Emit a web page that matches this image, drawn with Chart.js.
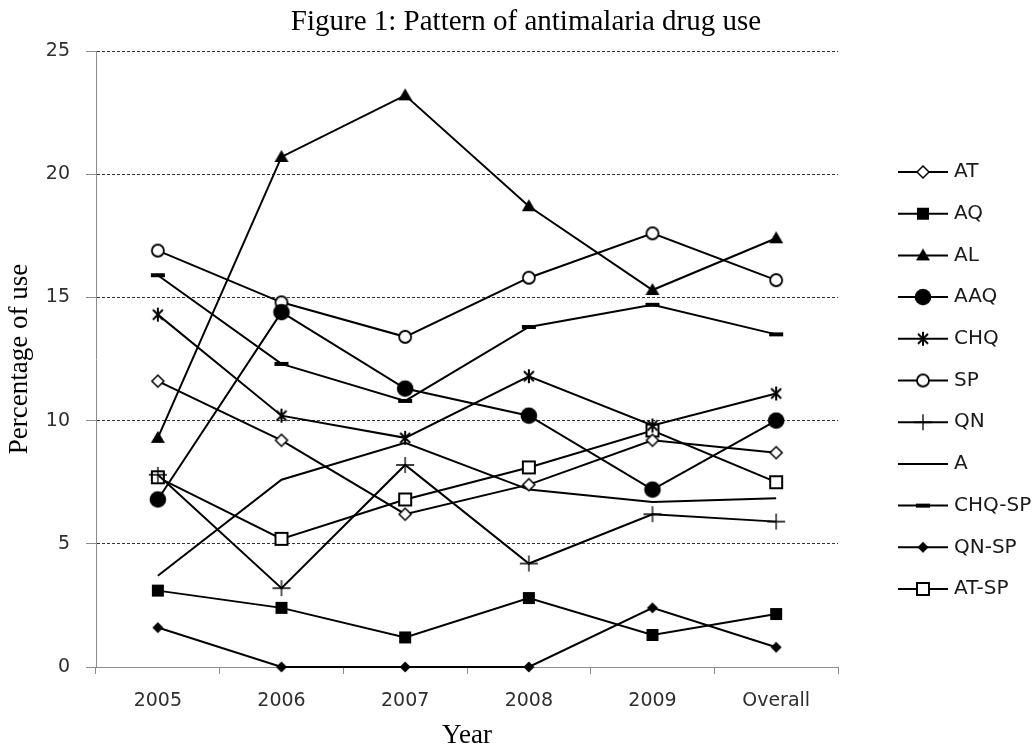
<!DOCTYPE html>
<html><head><meta charset="utf-8">
<script src="https://cdn.jsdelivr.net/npm/chart.js@4"></script>
<style>html,body{margin:0;padding:0;background:#fff}#wrap{width:1034px;height:746px}</style>
</head><body><div id="wrap"><canvas id="c" width="1034" height="746"></canvas></div>
<script>
// ---- data ----
const categories = ['2005', '2006', '2007', '2008', '2009', 'Overall'];
const AT     = [11.6, 9.2, 6.2, 7.4, 9.2, 8.7];
const AQ     = [3.1, 2.4, 1.2, 2.8, 1.3, 2.15];
const AL     = [9.3, 20.7, 23.2, 18.7, 15.3, 17.4];
const AAQ    = [6.8, 14.4, 11.3, 10.2, 7.2, 10.0];
const CHQ    = [14.3, 10.2, 9.3, 11.8, 9.8, 11.1];
const SP     = [16.9, 14.8, 13.4, 15.8, 17.6, 15.7];
const QN     = [7.8, 3.2, 8.2, 4.2, 6.2, 5.9];
const A      = [3.7, 7.6, 9.1, 7.2, 6.7, 6.85];
const CHQ_SP = [15.9, 12.3, 10.8, 13.8, 14.7, 13.5];
const QN_SP  = [1.6, 0, 0, 0, 2.4, 0.8];
const AT_SP  = [7.7, 5.2, 6.8, 8.1, 9.6, 7.5];
const yTickValues = [0, 5, 10, 15, 20, 25];

// ---- marker glyphs ----
function marker(kind) {
  const s = 22, m = s / 2;
  const c = document.createElement('canvas'); c.width = s; c.height = s;
  const g = c.getContext('2d');
  g.fillStyle = '#000'; g.strokeStyle = '#000'; g.lineJoin = 'miter';
  switch (kind) {
    case 'diamondOpen':
      g.beginPath(); g.moveTo(m, m - 6); g.lineTo(m + 6, m); g.lineTo(m, m + 6); g.lineTo(m - 6, m); g.closePath();
      g.fillStyle = '#fff'; g.fill(); g.lineWidth = 1.5; g.stroke(); break;
    case 'squareFilled':
      g.fillRect(m - 6, m - 6, 12, 12); break;
    case 'triangleFilled':
      g.beginPath(); g.moveTo(m, m - 7); g.lineTo(m + 7, m + 5); g.lineTo(m - 7, m + 5); g.closePath(); g.fill(); break;
    case 'circleFilled':
      g.beginPath(); g.arc(m, m, 8.3, 0, Math.PI * 2); g.fill(); break;
    case 'asterisk':
      g.lineWidth = 2; g.beginPath();
      g.moveTo(m - 5, m - 5); g.lineTo(m + 5, m + 5);
      g.moveTo(m + 5, m - 5); g.lineTo(m - 5, m + 5);
      g.moveTo(m, m - 7); g.lineTo(m, m + 7);
      g.stroke(); break;
    case 'circleOpen':
      g.beginPath(); g.arc(m, m, 6, 0, Math.PI * 2); g.fillStyle = '#fff'; g.fill(); g.lineWidth = 1.8; g.stroke(); break;
    case 'plus':
      g.lineWidth = 1.3; g.beginPath();
      g.moveTo(m - 9, m); g.lineTo(m + 9, m); g.moveTo(m, m - 8); g.lineTo(m, m + 8); g.stroke(); break;
    case 'dash':
      g.fillRect(m - 7, m - 2, 14, 4); break;
    case 'diamondFilled':
      g.beginPath(); g.moveTo(m, m - 5.5); g.lineTo(m + 5.5, m); g.lineTo(m, m + 5.5); g.lineTo(m - 5.5, m); g.closePath(); g.fill(); break;
    case 'squareOpen':
      g.fillStyle = '#fff'; g.fillRect(m - 6, m - 6, 12, 12); g.lineWidth = 2; g.strokeRect(m - 6, m - 6, 12, 12); break;
  }
  return c;
}

function series(label, data, kind) {
  return {
    label, data,
    borderColor: '#000', backgroundColor: '#000', borderWidth: 2,
    pointStyle: kind ? marker(kind) : false,
    pointRadius: kind ? 6 : 0, pointHoverRadius: kind ? 6 : 0,
    tension: 0, fill: false, clip: false
  };
}

const datasets = [
  series('AT', AT, 'diamondOpen'),
  series('AQ', AQ, 'squareFilled'),
  series('AL', AL, 'triangleFilled'),
  series('AAQ', AAQ, 'circleFilled'),
  series('CHQ', CHQ, 'asterisk'),
  series('SP', SP, 'circleOpen'),
  series('QN', QN, 'plus'),
  series('A', A, null),
  series('CHQ-SP', CHQ_SP, 'dash'),
  series('QN-SP', QN_SP, 'diamondFilled'),
  series('AT-SP', AT_SP, 'squareOpen')
];

// ---- legend drawn at the right (line + marker + label) ----
const sideLegend = {
  id: 'sideLegend',
  afterDraw(chart) {
    const ctx = chart.ctx;
    const x0 = chart.chartArea.right + 60, x1 = x0 + 50, xm = (x0 + x1) / 2;
    ctx.save();
    chart.data.datasets.forEach((ds, i) => {
      const y = 172 + i * 41.7;
      ctx.strokeStyle = '#000'; ctx.lineWidth = 2;
      ctx.beginPath(); ctx.moveTo(x0, y); ctx.lineTo(x1, y); ctx.stroke();
      if (ds.pointStyle) {
        const im = ds.pointStyle;
        ctx.drawImage(im, xm - im.width / 2, y - im.height / 2);
      }
      ctx.fillStyle = '#1a1a1a'; ctx.font = '20px "DejaVu Sans"';
      ctx.textBaseline = 'middle'; ctx.textAlign = 'left';
      ctx.fillText(ds.label, x1 + 6, y);
    });
    ctx.restore();
  }
};

const tickFont = { family: '"DejaVu Sans"', size: 19 };

new Chart(document.getElementById('c'), {
  type: 'line',
  data: { labels: categories, datasets },
  plugins: [sideLegend],
  options: {
    responsive: false, animation: false, devicePixelRatio: 1,
    layout: { padding: { left: 18, right: 0, top: 0, bottom: 0 } },
    plugins: {
      legend: { display: false },
      tooltip: { enabled: false },
      title: {
        display: true, text: 'Figure 1: Pattern of antimalaria drug use',
        color: '#000', font: { family: '"Liberation Serif"', size: 29, weight: 'normal', lineHeight: 1.2 },
        padding: { top: 4.5, bottom: 11.7 }
      }
    },
    scales: {
      x: {
        offset: true,
        grid: { display: true, drawOnChartArea: false, drawTicks: true, tickLength: 7, offset: true, color: '#8c8c8c', tickColor: '#8c8c8c' },
        border: { display: true, color: '#8c8c8c', width: 1 },
        ticks: { color: '#2e2e2e', font: tickFont, padding: 16, maxRotation: 0, autoSkip: false },
        title: { display: true, text: 'Year', color: '#000', font: { family: '"Liberation Serif"', size: 27, lineHeight: 1.2 }, padding: { top: 0, bottom: -6.2 } },
        afterFit(s) { s.height = 79; }
      },
      y: {
        min: 0, max: 25,
        afterBuildTicks(s) { s.ticks = yTickValues.map(v => ({ value: v })); },
        grid: {
          display: true, drawOnChartArea: true, drawTicks: true, tickLength: 10,
          color: ctx => (ctx.tick && ctx.tick.value === 0) ? 'rgba(0,0,0,0)' : '#333',
          tickColor: '#8c8c8c', tickBorderDash: [], lineWidth: 1
        },
        border: { display: true, color: '#8c8c8c', width: 1, dash: [3, 2] },
        ticks: { color: '#2e2e2e', font: tickFont, padding: 16 },
        title: { display: true, text: 'Percentage of use', color: '#000', font: { family: '"Liberation Serif"', size: 27, lineHeight: 1.2 }, padding: { top: -14.2, bottom: 0 } },
        afterFit(s) { s.width = 78; }
      },
      yRight: {
        position: 'right', display: true,
        grid: { display: false, drawTicks: false }, border: { display: false },
        ticks: { display: false },
        afterFit(s) { s.width = 196; }
      }
    }
  }
});
</script>
</body></html>
